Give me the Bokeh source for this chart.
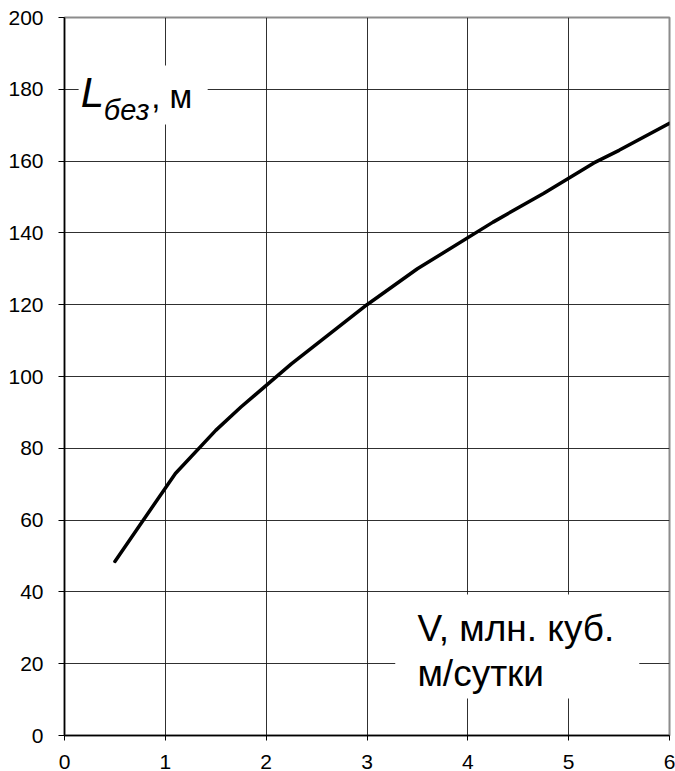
from bokeh.plotting import figure
from bokeh.models import Range1d, FixedTicker, Label, BoxAnnotation
from bokeh.embed import file_html
from bokeh.resources import INLINE

# Data
v_flow = [0.5, 1.1, 1.5, 1.75, 2.25, 2.75, 3.0, 3.5, 4.25, 4.75, 5.25, 5.5, 6.0]
l_bez = [48.5, 73.0, 85.0, 91.5, 103.5, 114.5, 120.0, 130.0, 143.0, 151.0, 159.5, 163.0, 170.5]
x_ticks = [0, 1, 2, 3, 4, 5, 6]
y_ticks = [0, 20, 40, 60, 80, 100, 120, 140, 160, 180, 200]

FONT = "Liberation Sans"

p = figure(width=675, height=771,
           x_range=Range1d(0, 6), y_range=Range1d(0, 200),
           output_backend="svg", toolbar_location=None,
           min_border_left=64, min_border_top=17, min_border_right=6, min_border_bottom=36)
p.background_fill_color = "white"
p.border_fill_color = "white"
p.outline_line_color = "#8c8c8c"
p.outline_line_width = 2

# grid
p.xgrid.ticker = FixedTicker(ticks=x_ticks)
p.ygrid.ticker = FixedTicker(ticks=y_ticks)
for g in (p.xgrid, p.ygrid):
    g.grid_line_color = "#1a1a1a"
    g.grid_line_width = 1
    g.grid_line_alpha = 0.9

# axes
p.xaxis.ticker = FixedTicker(ticks=x_ticks)
p.yaxis.ticker = FixedTicker(ticks=y_ticks)
for ax in (p.xaxis, p.yaxis):
    ax.axis_line_color = "black"
    ax.axis_line_width = 1.5
    ax.major_tick_line_color = "black"
    ax.major_tick_line_width = 1
    ax.major_tick_in = 0
    ax.minor_tick_line_color = None
    ax.major_label_text_font = FONT
    ax.major_label_text_font_size = "21px"
    ax.major_label_text_color = "black"
p.yaxis.major_tick_out = 6
p.yaxis.major_label_standoff = 15
p.xaxis.major_tick_out = 5
p.xaxis.major_label_standoff = 14

# curve
p.line(v_flow, l_bez, line_color="black", line_width=3.5, line_join="round", line_cap="round")

# white label boxes
p.add_layout(BoxAnnotation(left=0.14, right=1.42, bottom=170.2, top=186.6,
                           fill_color="white", fill_alpha=1, line_color=None))
p.add_layout(BoxAnnotation(left=3.28, right=5.70, bottom=10.3, top=39.3,
                           fill_color="white", fill_alpha=1, line_color=None))

# y label: L_без, м
p.add_layout(Label(x=0.16, y=179.0, text="L", text_font=FONT, text_font_style="italic",
                   text_font_size="42px", text_baseline="alphabetic", text_color="black"))
p.add_layout(Label(x=0.39, y=174.3, text="без", text_font=FONT, text_font_style="italic",
                   text_font_size="29px", text_baseline="alphabetic", text_color="black"))
p.add_layout(Label(x=0.86, y=178.1, text=", м", text_font=FONT,
                   text_font_size="33px", text_baseline="alphabetic", text_color="black"))

# x label
p.add_layout(Label(x=3.50, y=29.7, text="V, млн. куб.", text_font=FONT,
                   text_font_size="37px", text_baseline="alphabetic", text_color="black"))
p.add_layout(Label(x=3.50, y=17.2, text="м/сутки", text_font=FONT,
                   text_font_size="37px", text_baseline="alphabetic", text_color="black"))

open("out.html", "w").write(file_html(p, INLINE))
